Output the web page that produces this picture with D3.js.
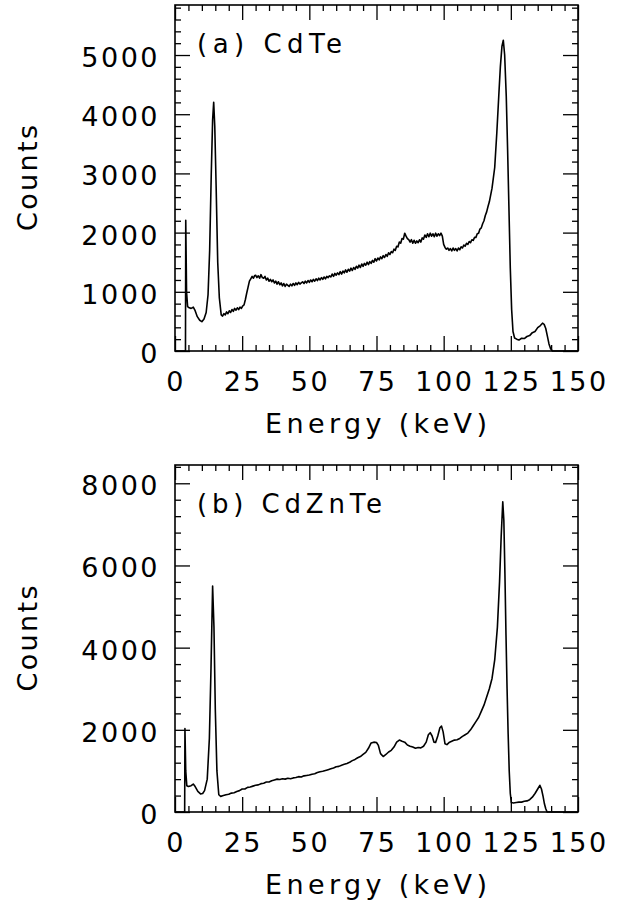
<!DOCTYPE html>
<html><head><meta charset="utf-8">
<script src="https://cdn.jsdelivr.net/npm/d3@7"></script>
<style>body{margin:0;background:#fff}</style>
</head><body><svg id="c" width="627" height="901"></svg>
<script>
// ---- data ----
const energyA = [0,3.9,4.0,4.3,4.7,5.3,6,6.8,7.5,8.3,9.2,10,10.8,11.6,12.3,12.9,13.5,14,14.4,14.8,15.3,15.9,16.5,17.2,
  17.7,18.2,18.7,19.2,19.7,20.2,20.7,21.2,21.7,22.2,22.7,23.2,23.7,24.2,24.7,25.2,25.7,26.2,26.7,27.2,27.7,28.2,28.7,29.2,29.6,
  30,30.5,31,31.5,32,32.5,33,33.5,34,34.5,
  35,35.5,36,36.5,37,37.5,38,38.5,39,39.5,
  40,40.5,41,41.5,42,42.5,43,43.5,44,44.5,
  45,45.5,46,46.5,47,47.5,48,48.5,49,49.5,
  50,50.5,51,51.5,52,52.5,53,53.5,54,54.5,
  55,55.5,56,56.5,57,57.5,58,58.5,59,59.5,
  60,60.5,61,61.5,62,62.5,63,63.5,64,64.5,
  65,65.5,66,66.5,67,67.5,68,68.5,69,69.5,
  70,70.5,71,71.5,72,72.5,73,73.5,74,74.5,
  75,75.5,76,76.5,77,77.5,78,78.5,79,79.5,
  80,80.5,81,81.5,82,82.5,83,83.5,84,84.5,
  85,85.5,86,86.5,87,87.5,88,88.5,89,89.5,
  90,90.5,91,91.5,92,92.5,93,93.5,94,94.5,
  95,95.5,96,96.5,97,97.5,98,98.5,99,99.5,
  100,100.5,101,101.5,102,102.5,103,103.5,104,104.5,
  105,105.5,106,106.5,107,107.5,108,108.5,109,109.5,
  110,110.5,111,111.5,112,112.5,113,113.5,114,114.5,
  115,115.5,116,116.5,117,
  118,119,119.8,120.5,121.1,121.7,122.2,122.7,123.3,123.8,124.3,124.8,125.3,125.8,126.4,127.2,128,129,130,131,132,133,134,135,136,136.8,137.4,138,138.6,139.2,139.8,140.5,150];
const countsA = [0,0,2210,1000,750,730,720,740,680,580,520,495,540,650,950,1700,3000,3900,4200,3800,2800,1500,900,610,
  590,630,610,660,630,680,650,700,670,720,690,730,700,740,720,760,780,870,980,1080,1180,1220,1260,1230,1270,
  1280,1240,1270,1230,1290,1240,1230,1260,1200,1230,
  1180,1210,1170,1200,1150,1180,1130,1170,1120,1150,
  1100,1140,1090,1130,1110,1090,1130,1100,1140,1110,
  1150,1120,1160,1130,1150,1170,1140,1180,1150,1190,
  1160,1200,1170,1210,1180,1220,1190,1230,1200,1240,
  1210,1250,1220,1260,1240,1270,1250,1300,1260,1310,
  1280,1320,1290,1340,1300,1350,1320,1370,1330,1380,
  1350,1400,1360,1410,1380,1430,1400,1450,1410,1470,
  1430,1480,1450,1500,1460,1510,1480,1530,1500,1560,
  1520,1570,1540,1590,1560,1610,1580,1630,1600,1660,
  1630,1680,1660,1720,1700,1770,1760,1840,1820,1900,
  1890,1990,1940,1900,1880,1840,1880,1820,1870,1820,
  1860,1830,1880,1840,1910,1890,1960,1920,1980,1930,
  1990,1940,1980,1930,1990,1940,1980,1950,1990,1940,
  1800,1750,1720,1740,1700,1730,1690,1740,1700,1730,
  1690,1740,1710,1760,1740,1790,1770,1820,1800,1850,
  1830,1880,1870,1920,1920,1980,1990,2060,2080,2150,
  2200,2290,2350,2440,2520,
  2750,3100,3700,4300,4800,5150,5250,5000,4300,3400,2400,1400,700,330,220,200,185,215,210,245,260,310,330,395,430,470,450,380,250,120,40,0,0];

const energyB = [0,3.6,3.7,4.0,4.4,5,6,6.8,7.5,8.5,9.5,10.3,11,12,12.8,13.4,14,14.5,15,15.6,16.3,17,18,19,20,21,22,23,24,25,26,27,28,29,30,31,32,33,34,35,36,37,38,39,40,41,42,43,44,45,46,47,48,49,50,51,52,53,54,55,56,57,58,59,60,61,62,63,64,65,66,67,68,69,70,71,72,73,74,75,75.7,76.5,77.5,78.5,79.5,80.5,81.5,82.5,83.5,84.5,85.5,86.5,87.5,88.5,89.5,90.5,91.5,92.5,93.5,94.3,95,95.7,96.4,97,97.8,98.6,99.2,99.8,100.5,101.2,102,103,104,105,106,107,108,109,110,111,112,113,114,115,116,117,118,119,120,120.8,121.4,122,122.4,122.8,123.2,123.6,124,124.4,124.8,125.2,126,127,128,129,130,131,132,133,134,135,135.8,136.4,137,137.5,138,138.5,150];
const countsB = [0,0,2030,1000,640,620,640,680,620,500,440,450,520,800,1800,3500,5500,4500,2500,1000,420,380,400,420,430,460,470,500,520,560,560,600,610,630,650,660,690,700,730,730,760,780,800,790,810,800,820,810,830,840,860,850,880,890,900,920,930,960,980,990,1010,1030,1050,1070,1100,1110,1140,1160,1180,1210,1250,1280,1320,1350,1400,1450,1550,1680,1700,1690,1620,1420,1350,1400,1460,1500,1580,1700,1750,1720,1700,1630,1600,1580,1550,1570,1560,1600,1700,1880,1930,1850,1700,1690,1850,2050,2090,1950,1660,1640,1690,1720,1750,1760,1790,1840,1880,1920,2000,2100,2200,2300,2450,2600,2800,3000,3250,3700,4500,5600,6700,7550,7100,5800,4300,3000,1900,1000,450,230,220,230,240,240,260,270,300,360,450,560,650,560,380,200,80,0,0];

const xTicks = [0,25,50,75,100,125,150];
const yTicksA = [0,1000,2000,3000,4000,5000];
const yTicksB = [0,2000,4000,6000,8000];
const labelA = "(a) CdTe", labelB = "(b) CdZnTe";
const xTitle = "Energy (keV)", yTitle = "Counts";

// ---- drawing ----
const svg = d3.select("#c");
const FONT = "'DejaVu Sans', sans-serif";
const x = d3.scaleLinear().domain([0,150]).range([175,578]);

function panel(energy, counts, yMax, yTicks, yMinorStep, top, bottom, label, labelLen) {
  const y = d3.scaleLinear().domain([0,yMax]).range([bottom, top]);
  const g = svg.append("g");
  const xMinor = d3.range(0,151,5).filter(v => v % 25 !== 0);
  const yMinor = d3.range(0, yMax, yMinorStep).filter(v => yTicks.indexOf(v) < 0);
  const ax = [
    [d3.axisBottom, x, xTicks, xMinor, `translate(0,${bottom})`],
    [d3.axisTop, x, xTicks, xMinor, `translate(0,${top})`],
    [d3.axisLeft, y, yTicks, yMinor, `translate(175,0)`],
    [d3.axisRight, y, yTicks, yMinor, `translate(578,0)`]
  ];
  ax.forEach(([f, s, maj, min, tr]) => {
    const a1 = g.append("g").attr("transform", tr).call(f(s).tickValues(maj).tickSize(-15).tickFormat(""));
    const a2 = g.append("g").attr("transform", tr).call(f(s).tickValues(min).tickSize(-6).tickFormat(""));
    [a1,a2].forEach(a => { a.select(".domain").remove(); a.selectAll("line").attr("stroke","#000").attr("stroke-width",1.3); });
  });
  g.append("rect").attr("x",175).attr("y",top).attr("width",403).attr("height",bottom-top)
    .attr("fill","none").attr("stroke","#000").attr("stroke-width",1.6);

  const pts = energy.map((e,i) => [e, counts[i]]);
  const line = d3.line().x(d => x(d[0])).y(d => y(d[1]));
  g.append("path").datum(pts).attr("d", line).attr("fill","none")
    .attr("stroke","#000").attr("stroke-width",1.6).attr("stroke-linejoin","round");

  // tick labels
  g.selectAll("text.yl").data(yTicks).join("text").attr("class","yl")
    .attr("x",160).attr("y",d=>y(d)+12).attr("text-anchor","end")
    .attr("font-family",FONT).attr("font-size",27).attr("letter-spacing",2.5).text(d=>d);
  g.selectAll("text.xl").data(xTicks).join("text").attr("class","xl")
    .attr("x",d=>x(d)+1.2).attr("y",bottom+40).attr("text-anchor","middle")
    .attr("font-family",FONT).attr("font-size",27).attr("letter-spacing",2.5).text(d=>d);
  g.append("text").attr("x",265).attr("y",bottom+82).attr("font-family",FONT).attr("font-size",27)
    .attr("textLength",222).attr("lengthAdjust","spacing").text(xTitle);
  const cy = (top+bottom)/2;
  g.append("text").attr("transform",`translate(37,${cy+53}) rotate(-90)`).attr("font-family",FONT).attr("font-size",27)
    .attr("textLength",106).attr("lengthAdjust","spacing").text(yTitle);
  g.append("text").attr("x",197).attr("y",top+48).attr("font-family",FONT).attr("font-size",26)
    .attr("textLength",labelLen).attr("lengthAdjust","spacing").text(label);
}

panel(energyA, countsA, 5845, yTicksA, 200, 5, 351, labelA, 145);
panel(energyB, countsB, 8445, yTicksB, 400, 465, 812, labelB, 185);
</script></body></html>
